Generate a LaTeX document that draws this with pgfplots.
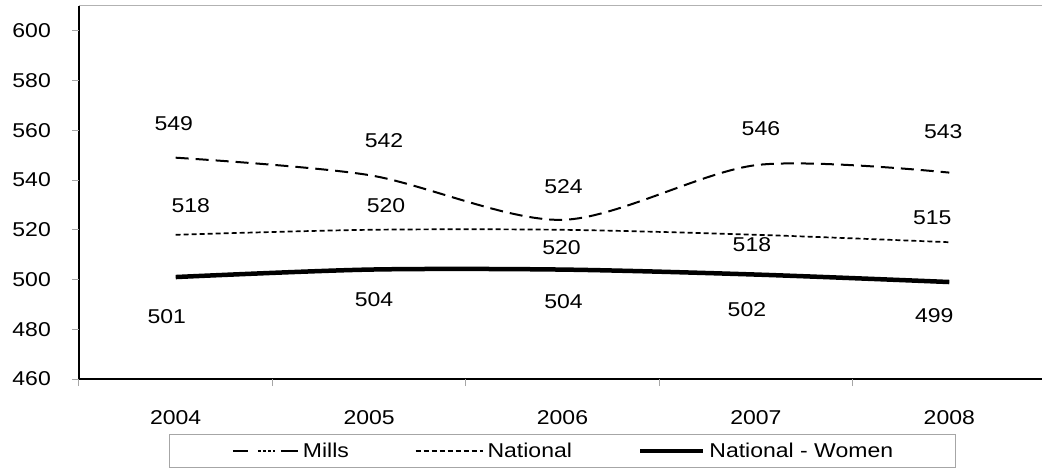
\documentclass[border=0pt]{standalone}
\usepackage{fontspec}
\setmainfont{Liberation Sans}
\usepackage{graphicx}
\usepackage{pgfplots}
\usepackage{pgfplotstable}
\pgfplotsset{compat=1.18}

% the reference text is a little wider than plain Arial
\newcommand\sx[1]{\scalebox{1.15}[1]{#1}}
\newcommand\chartfont{\fontsize{20}{24}\selectfont}

% x = category index (2004..2008), dx/dy = label offset in pt
\pgfplotstableread{
x y dx dy lab
0 549 -2 34 549
1 542 15 34 542
2 524 1 33 524
3 546 5 37 546
4 543 -6 41 543
}\mills
\pgfplotstableread{
x y dx dy lab
0 518 15 29 518
1 520 17 24 520
2 520 -1 -18 520
3 518 -4 -10 518
4 515 -17 25 515
}\national
\pgfplotstableread{
x y dx dy lab
0 501 -9 -40 501
1 504 5 -30 504
2 504 1 -32 504
3 502 -9 -35 502
4 499 -15 -34 499
}\women

\pgfplotsset{
  lab/.style={
    point meta=explicit symbolic,
    nodes near coords={\sx{\pgfplotspointmeta}},
    visualization depends on=\thisrow{dx}\as\lx,
    visualization depends on=\thisrow{dy}\as\ly,
    every node near coord/.append style={anchor=center, inner sep=0pt,
      solid, font=\chartfont, xshift=\lx pt, yshift=\ly pt},
  },
  leg line/.style={legend image code/.code={\draw[##1] (0pt,0pt) -- (#1,0pt);}},
  leg mills/.style={legend image code/.code={
    \draw[solid, line width=2pt] (0pt,0pt) -- (15pt,0pt);
    \draw[line width=1.5pt, dash pattern=on 3pt off 2pt] (25pt,0pt) -- (42pt,0pt);
    \draw[solid, line width=2pt] (48pt,0pt) -- (65pt,0pt);}},
}

\begin{document}
\begin{tikzpicture}[font=\chartfont]
\begin{axis}[
  at={(79pt,93pt)}, anchor=south west,
  scale only axis, width=967pt, height=373pt,
  xmin=-0.5, xmax=4.5, ymin=460, ymax=610,
  clip=false,
  axis x line*=bottom, axis y line*=left,
  axis line style={line width=1.3pt, black, -},
  xtick={0,1,2,3,4},
  xticklabels={\sx{2004},\sx{2005},\sx{2006},\sx{2007},\sx{2008}},
  ytick={460,480,500,520,540,560,580,600},
  yticklabels={\sx{460},\sx{480},\sx{500},\sx{520},\sx{540},\sx{560},\sx{580},\sx{600}},
  major tick length=0pt,
  xticklabel style={inner sep=0pt, anchor=north, yshift=-31pt, font=\chartfont},
  yticklabel style={inner sep=0pt, anchor=east, xshift=-28pt, font=\chartfont},
  extra x ticks={-0.5,0.5,1.5,2.5,3.5,4.5}, extra x tick labels={},
  extra y ticks={460,480,500,520,540,560,580,600}, extra y tick labels={},
  extra tick style={major tick length=7pt, tick align=outside,
    major tick style={gray!70, line width=1pt}},
  legend columns=3,
  legend cell align=left,
  legend style={at={(0.5,-0.1475)}, anchor=north, draw=gray!70, line width=1pt,
    inner xsep=62pt, inner ysep=8.5pt, font=\chartfont,
    nodes={inner sep=0pt},
    /tikz/every even column/.append style={column sep=66pt},
    /tikz/every odd column/.append style={column sep=4pt}},
]
\addplot[black, line width=2pt, smooth, dash pattern=on 13pt off 7pt, lab, leg mills]
  table[x=x, y=y, meta=lab]{\mills};
\addlegendentry{\sx{Mills}}
\addplot[black, line width=1.7pt, smooth, dash pattern=on 5pt off 3pt, lab, leg line=67pt]
  table[x=x, y=y, meta=lab]{\national};
\addlegendentry{\sx{National}}
\addplot[black, line width=4.5pt, smooth, lab, leg line=63pt]
  table[x=x, y=y, meta=lab]{\women};
\addlegendentry{\sx{National - Women}}
\draw[gray!60, line width=1pt] (rel axis cs:0,1) -- (rel axis cs:1,1);
\end{axis}
\pgfresetboundingbox
\path (0pt,0pt) rectangle (1042pt,472pt);
\end{tikzpicture}
\end{document}
